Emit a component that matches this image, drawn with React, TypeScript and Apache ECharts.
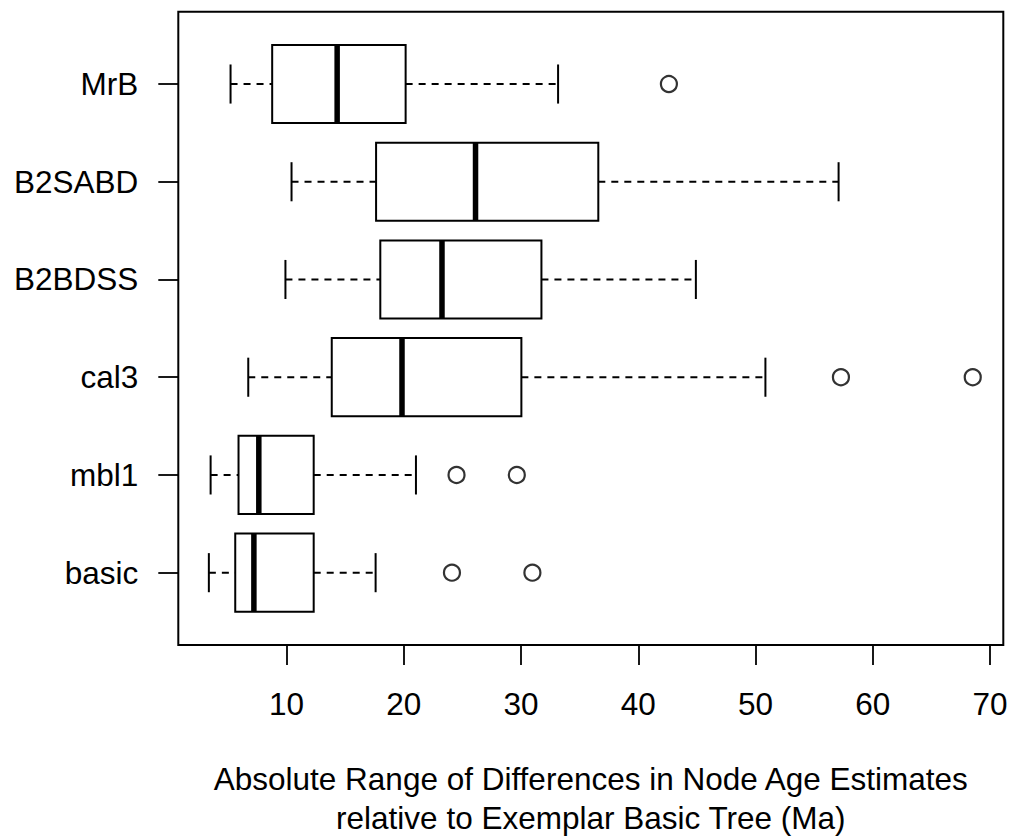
import React, { useEffect, useRef } from "react";
import * as echarts from "echarts";

// Categories from bottom to top (R boxplot order)
const categories = ["basic", "mbl1", "cal3", "B2BDSS", "B2SABD", "MrB"];

// Five-number summaries: [lower whisker, Q1, median, Q3, upper whisker]
const whiskerLow = [3.38, 3.53, 6.74, 9.91, 10.43, 5.23];
const quartile1 = [5.63, 5.91, 13.86, 18.0, 17.64, 8.78];
const medians = [7.22, 7.64, 19.85, 23.26, 26.12, 14.32];
const quartile3 = [12.32, 12.32, 30.03, 31.74, 36.59, 20.16];
const whiskerHigh = [17.6, 21.04, 50.84, 44.91, 57.08, 33.16];

// Outliers: [category index, value]
const outlierCategory = [0, 0, 1, 1, 2, 2, 5];
const outlierValues = [24.11, 30.97, 24.5, 29.64, 57.28, 68.52, 42.61];

const xTicks = [10, 20, 30, 40, 50, 60, 70];
const xTitle =
  "Absolute Range of Differences in Node Age Estimates\nrelative to Exemplar Basic Tree (Ma)";

const FONT = "'Liberation Sans', Arial, Helvetica, sans-serif";
const FS = 31.5;

export default function App() {
  const ref = useRef<HTMLDivElement>(null);

  useEffect(() => {
    if (!ref.current) return;
    const chart = echarts.init(ref.current, undefined, { renderer: "svg" });

    const all = [...whiskerLow, ...whiskerHigh, ...outlierValues];
    const dMin = Math.min(...all);
    const dMax = Math.max(...all);
    const pad = (dMax - dMin) * 0.04;
    const xMin = dMin - pad;
    const xMax = dMax + pad;
    const n = categories.length;
    const yMin = 0.5 - 0.04 * n;
    const yMax = n + 0.5 + 0.04 * n;

    const boxData = categories.map((_, i) => [
      i + 1,
      whiskerLow[i],
      quartile1[i],
      medians[i],
      quartile3[i],
      whiskerHigh[i],
    ]);
    const outData = outlierValues.map((v, k) => [v, outlierCategory[k] + 1]);

    const lineStyle = { stroke: "#000", lineWidth: 2 };
    const dashStyle = { stroke: "#000", lineWidth: 2, lineDash: [7, 6] };

    chart.setOption({
      animation: false,
      backgroundColor: "#fff",
      grid: {
        left: 178.3,
        top: 11.7,
        right: 1017 - 1003.3,
        bottom: 838 - 645,
        outerBoundsMode: "none",
        containLabel: false,
        show: true,
        borderColor: "#000",
        borderWidth: 2,
        backgroundColor: "transparent",
      },
      xAxis: {
        type: "value",
        min: xMin,
        max: xMax,
        axisLine: { show: false },
        splitLine: { show: false },
        axisTick: {
          show: true,
          customValues: xTicks,
          length: 20,
          lineStyle: { color: "#000", width: 1.8 },
        },
        axisLabel: {
          customValues: xTicks,
          margin: 43,
          color: "#000",
          fontFamily: FONT,
          fontSize: FS,
          lineHeight: FS,
        },
        name: xTitle,
        nameLocation: "middle",
        nameGap: 114,
        nameTextStyle: {
          color: "#000",
          fontFamily: FONT,
          fontSize: FS,
          lineHeight: 39,
          align: "center",
        },
      },
      yAxis: {
        type: "value",
        min: yMin,
        max: yMax,
        axisLine: { show: false },
        splitLine: { show: false },
        axisTick: {
          show: true,
          customValues: categories.map((_, i) => i + 1),
          length: 20,
          lineStyle: { color: "#000", width: 1.8 },
        },
        axisLabel: {
          customValues: categories.map((_, i) => i + 1),
          formatter: (v: number) => categories[Math.round(v) - 1] ?? "",
          margin: 40,
          color: "#000",
          fontFamily: FONT,
          fontSize: FS,
        },
      },
      series: [
        {
          type: "custom",
          data: boxData,
          encode: { x: [1, 2, 3, 4, 5], y: 0 },
          renderItem: (params: any, api: any) => {
            const y = api.value(0);
            const wl = api.value(1);
            const q1 = api.value(2);
            const md = api.value(3);
            const q3 = api.value(4);
            const wh = api.value(5);
            const half = 0.4;
            const staple = 0.2;
            const pTop = (v: number) => api.coord([v, y + half]);
            const pBot = (v: number) => api.coord([v, y - half]);
            const c = (v: number, yy: number) => api.coord([v, yy]);
            const a = pTop(q1);
            const b = pBot(q3);
            const mT = pTop(md);
            const mB = pBot(md);
            return {
              type: "group",
              children: [
                {
                  type: "line",
                  shape: { x1: c(wl, y)[0], y1: c(wl, y)[1], x2: c(q1, y)[0], y2: c(q1, y)[1] },
                  style: dashStyle,
                },
                {
                  type: "line",
                  shape: { x1: c(q3, y)[0], y1: c(q3, y)[1], x2: c(wh, y)[0], y2: c(wh, y)[1] },
                  style: dashStyle,
                },
                {
                  type: "line",
                  shape: {
                    x1: c(wl, y + staple)[0],
                    y1: c(wl, y + staple)[1],
                    x2: c(wl, y - staple)[0],
                    y2: c(wl, y - staple)[1],
                  },
                  style: lineStyle,
                },
                {
                  type: "line",
                  shape: {
                    x1: c(wh, y + staple)[0],
                    y1: c(wh, y + staple)[1],
                    x2: c(wh, y - staple)[0],
                    y2: c(wh, y - staple)[1],
                  },
                  style: lineStyle,
                },
                {
                  type: "rect",
                  shape: { x: a[0], y: a[1], width: b[0] - a[0], height: b[1] - a[1] },
                  style: { fill: "#fff", stroke: "#000", lineWidth: 2 },
                },
                {
                  type: "line",
                  shape: { x1: mT[0], y1: mT[1], x2: mB[0], y2: mB[1] },
                  style: { stroke: "#000", lineWidth: 5.5 },
                },
              ],
            };
          },
        },
        {
          type: "scatter",
          data: outData,
          symbol: "circle",
          symbolSize: 16,
          itemStyle: { color: "#fff", borderColor: "#000", borderWidth: 2.2 },
        },
      ],
    });

    return () => chart.dispose();
  }, []);

  return (
    <div
      ref={ref}
      style={{ position: "absolute", left: 0, top: 0, width: 1017, height: 838 }}
    />
  );
}
